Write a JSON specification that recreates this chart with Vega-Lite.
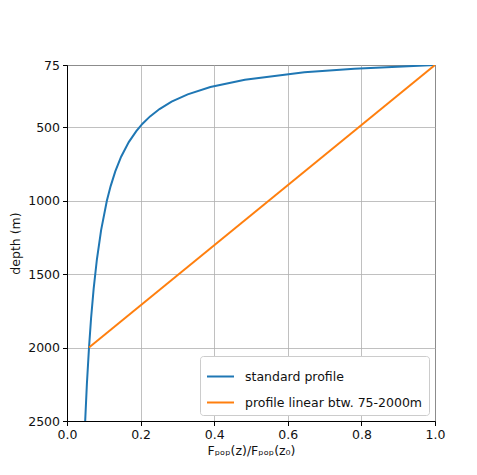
{
  "$schema": "https://vega.github.io/schema/vega-lite/v6.json",
  "autosize": "none",
  "padding": {"left": 67, "top": 65, "right": 42, "bottom": 54},
  "width": 368,
  "height": 356,
  "background": "white",
  "config": {
    "view": {"stroke": "black", "strokeWidth": 1},
    "font": "DejaVu Sans",
    "axis": {
      "domainColor": "black",
      "tickColor": "black",
      "tickSize": 4.5,
      "labelPadding": 3,
      "labelFlush": false,
      "labelFontSize": 12.5,
      "labelColor": "#111111",
      "titleFontSize": 12.5,
      "titleFontWeight": "normal",
      "titleColor": "#111111",
      "gridColor": "#b0b0b0",
      "gridWidth": 0.8
    }
  },
  "data": {
    "values": [
      {"series": "standard profile", "x": 1.0, "depth": 75},
      {"series": "standard profile", "x": 0.781, "depth": 100},
      {"series": "standard profile", "x": 0.645, "depth": 125},
      {"series": "standard profile", "x": 0.4834, "depth": 175},
      {"series": "standard profile", "x": 0.3896, "depth": 225},
      {"series": "standard profile", "x": 0.3280, "depth": 275},
      {"series": "standard profile", "x": 0.2842, "depth": 325},
      {"series": "standard profile", "x": 0.2514, "depth": 375},
      {"series": "standard profile", "x": 0.2257, "depth": 425},
      {"series": "standard profile", "x": 0.2052, "depth": 475},
      {"series": "standard profile", "x": 0.1883, "depth": 525},
      {"series": "standard profile", "x": 0.1679, "depth": 600},
      {"series": "standard profile", "x": 0.1471, "depth": 700},
      {"series": "standard profile", "x": 0.1312, "depth": 800},
      {"series": "standard profile", "x": 0.1186, "depth": 900},
      {"series": "standard profile", "x": 0.1083, "depth": 1000},
      {"series": "standard profile", "x": 0.0927, "depth": 1200},
      {"series": "standard profile", "x": 0.0812, "depth": 1400},
      {"series": "standard profile", "x": 0.0724, "depth": 1600},
      {"series": "standard profile", "x": 0.0654, "depth": 1800},
      {"series": "standard profile", "x": 0.0598, "depth": 2000},
      {"series": "standard profile", "x": 0.0540, "depth": 2250},
      {"series": "standard profile", "x": 0.0494, "depth": 2500},
      {"series": "profile linear btw. 75-2000m", "x": 1.0, "depth": 75},
      {"series": "profile linear btw. 75-2000m", "x": 0.0598, "depth": 2000}
    ]
  },
  "mark": {"type": "line", "strokeWidth": 2, "clip": true},
  "encoding": {
    "x": {
      "field": "x",
      "type": "quantitative",
      "scale": {"domain": [0, 1], "nice": false, "zero": false},
      "axis": {"values": [0, 0.2, 0.4, 0.6, 0.8, 1.0], "format": ".1f", "title": "Fₚₒₚ(z)/Fₚₒₚ(z₀)", "titlePadding": 3}
    },
    "y": {
      "field": "depth",
      "type": "quantitative",
      "scale": {"domain": [75, 2500], "reverse": true, "nice": false, "zero": false},
      "axis": {"values": [75, 500, 1000, 1500, 2000, 2500], "format": "d", "title": "depth (m)", "titlePadding": 5}
    },
    "color": {
      "field": "series",
      "type": "nominal",
      "scale": {"domain": ["standard profile", "profile linear btw. 75-2000m"], "range": ["#1f77b4", "#ff7f0e"]},
      "legend": {
        "title": null,
        "orient": "bottom-right",
        "symbolType": "stroke",
        "symbolSize": 729,
        "symbolStrokeWidth": 2,
        "labelFontSize": 12.5,
        "labelColor": "#111111",
        "labelOffset": 10,
        "labelLimit": 400,
        "fillColor": "white",
        "strokeColor": "#cccccc",
        "cornerRadius": 3,
        "padding": 6,
        "offset": 6,
        "rowPadding": 5
      }
    },
    "order": {"field": "depth", "type": "quantitative"}
  }
}
